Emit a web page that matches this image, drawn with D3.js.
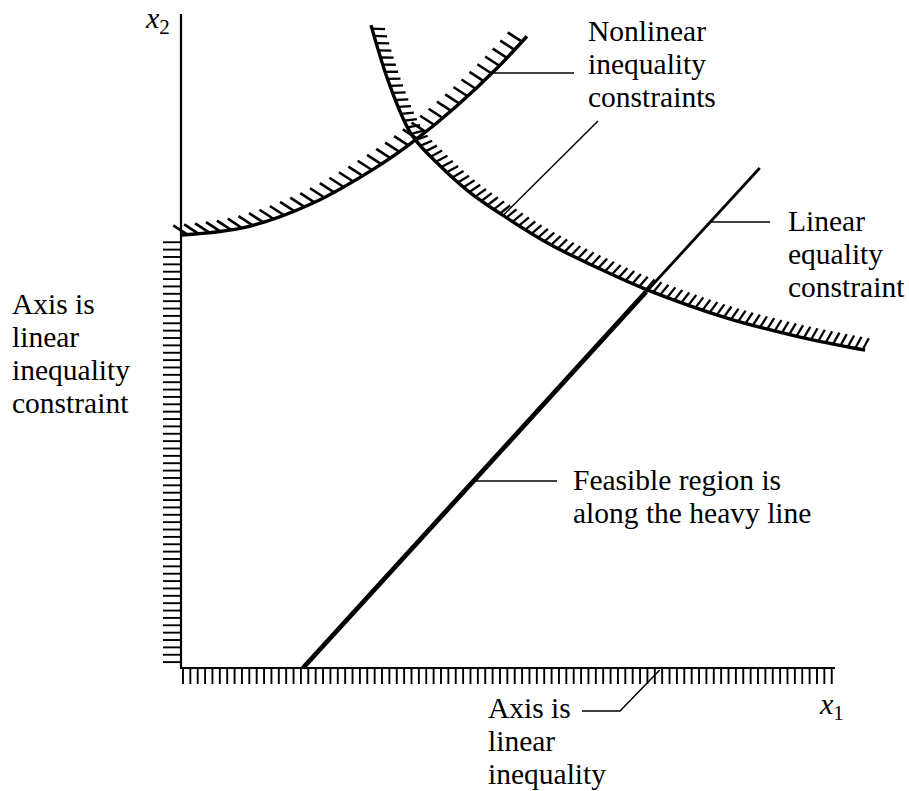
<!DOCTYPE html>
<html>
<head>
<meta charset="utf-8">
<script src="https://cdn.jsdelivr.net/npm/d3@7"></script>
<style>
  html, body { margin: 0; padding: 0; background: #fff; }
  svg { display: block; }
  text { font-family: "Liberation Serif", "Times New Roman", serif; fill: #000; }
</style>
</head>
<body>
<svg id="chart"></svg>
<script>
// Constraint sketch: x1/x2 axes as inequality constraints, two nonlinear
// inequality curves (hatched on the infeasible side) and a linear equality line.

// -------- data (chart units, 0..100 on both axes) --------
const nonlinearRising = [   // convex rising curve, hatched above
  [0.15, 66.2], [10.1, 67.45], [20.2, 71.1], [30.4, 76.9],
  [35.6, 80.55], [41.9, 85.7], [48.3, 91.7], [52.9, 96.6]
];
const nonlinearFalling = [  // hyperbola-like curve, hatched above/right
  [29.05, 98.3], [31.96, 89.0], [35.3, 81.5], [39.6, 76.8], [44.2, 72.7],
  [49.24, 69.2], [56.4, 64.8], [64.1, 61.0], [71.1, 57.9], [83.5, 53.5],
  [94.65, 50.6], [104.6, 48.6]
];
const equalityLine = [[18.65, 0], [71.1, 57.5], [88.5, 76.45]]; // start, hits curve, end
const xAxisExtent = [0, 100];
const yAxisExtent = [0, 100];
const xHatchExtent = [0.3, 99.5];
const yHatchExtent = [0.9, 65.1];

const labelNonlinear = ['Nonlinear', 'inequality', 'constraints'];
const labelEquality  = ['Linear', 'equality', 'constraint'];
const labelYAxis     = ['Axis is', 'linear', 'inequality', 'constraint'];
const labelFeasible  = ['Feasible region is', 'along the heavy line'];
const labelXAxis     = ['Axis is', 'linear', 'inequality'];

// -------- setup --------
const W = 909, H = 791;
const svg = d3.select('#chart').attr('width', W).attr('height', H);

const x = d3.scaleLinear().domain([0, 100]).range([181, 835]);
const y = d3.scaleLinear().domain([0, 100]).range([668, 14]);

const line = d3.line().x(d => x(d[0])).y(d => y(d[1]));
const smooth = d3.line().x(d => x(d[0])).y(d => y(d[1])).curve(d3.curveCatmullRom.alpha(0.5));

// hatch marks along a path; dirFn(tx, ty) -> unit direction for the mark
function hatch(pathSel, spacing, len, width, dirFn) {
  const node = pathSel.node();
  const L = node.getTotalLength();
  const segs = [];
  for (let s = spacing * 0.5; s <= L - 2; s += spacing) {
    const p  = node.getPointAtLength(s);
    const p0 = node.getPointAtLength(Math.max(0, s - 1.5));
    const p1 = node.getPointAtLength(Math.min(L, s + 1.5));
    let tx = p1.x - p0.x, ty = p1.y - p0.y;
    const n = Math.hypot(tx, ty) || 1;
    tx /= n; ty /= n;
    const [dx, dy] = dirFn(tx, ty);
    segs.push([p.x, p.y, p.x + dx * len, p.y + dy * len]);
  }
  svg.append('g').selectAll('line').data(segs).join('line')
    .attr('x1', d => d[0]).attr('y1', d => d[1])
    .attr('x2', d => d[2]).attr('y2', d => d[3])
    .attr('stroke', '#000').attr('stroke-width', width)
    .attr('stroke-linecap', 'butt');
}

// -------- nonlinear curves --------
const pathA = svg.append('path').attr('d', smooth(nonlinearRising))
  .attr('fill', 'none').attr('stroke', '#000').attr('stroke-width', 3.4);
const pathB = svg.append('path').attr('d', smooth(nonlinearFalling))
  .attr('fill', 'none').attr('stroke', '#000').attr('stroke-width', 3.4);

// rising curve: marks at a fixed slant, up-left
const aAng = 33 * Math.PI / 180;
hatch(pathA, 11, 17, 2.6, () => [-Math.cos(aAng), -Math.sin(aAng)]);

// falling curve: normal on the upper-right side, turned clockwise a bit
const bRot = 18 * Math.PI / 180;
hatch(pathB, 7.5, 13, 2.3, (tx, ty) => {
  const nx = ty, ny = -tx;
  return [nx * Math.cos(bRot) - ny * Math.sin(bRot), nx * Math.sin(bRot) + ny * Math.cos(bRot)];
});

// -------- linear equality line (heavy where feasible) --------
svg.append('path').attr('d', line(equalityLine.slice(1)))
  .attr('stroke', '#000').attr('stroke-width', 2.8).attr('fill', 'none');
svg.append('path').attr('d', line(equalityLine.slice(0, 2)))
  .attr('stroke', '#000').attr('stroke-width', 4.8).attr('fill', 'none');

// -------- axes with hatching --------
svg.append('line')
  .attr('x1', x(0)).attr('y1', y(yAxisExtent[1])).attr('x2', x(0)).attr('y2', y(0))
  .attr('stroke', '#000').attr('stroke-width', 2.2);
svg.append('line')
  .attr('x1', x(0) - 1).attr('y1', y(0)).attr('x2', x(xAxisExtent[1])).attr('y2', y(0))
  .attr('stroke', '#000').attr('stroke-width', 2.2);

const yTicks = d3.range(yHatchExtent[0], yHatchExtent[1] + 0.01, (yHatchExtent[1] - yHatchExtent[0]) / 57);
const xTicks = d3.range(xHatchExtent[0], xHatchExtent[1] + 0.01, (xHatchExtent[1] - xHatchExtent[0]) / 88);

svg.append('g').selectAll('line').data(yTicks).join('line')
  .attr('x1', x(0) - 18).attr('x2', x(0))
  .attr('y1', d => y(d)).attr('y2', d => y(d))
  .attr('stroke', '#000').attr('stroke-width', 1.9);
svg.append('g').selectAll('line').data(xTicks).join('line')
  .attr('x1', d => x(d)).attr('x2', d => x(d))
  .attr('y1', y(0)).attr('y2', y(0) + 16)
  .attr('stroke', '#000').attr('stroke-width', 1.9);

// -------- axis names --------
const xName = svg.append('text').attr('x', 820).attr('y', 714)
  .style('font-size', '30px').style('font-style', 'italic');
xName.append('tspan').text('x');
xName.append('tspan').attr('dy', 6).style('font-size', '21px').style('font-style', 'normal').text('1');

const yName = svg.append('text').attr('x', 146).attr('y', 28)
  .style('font-size', '30px').style('font-style', 'italic');
yName.append('tspan').text('x');
yName.append('tspan').attr('dy', 6).style('font-size', '21px').style('font-style', 'normal').text('2');

// -------- labels + leaders --------
function label(lines, lx, ly) {
  const t = svg.append('text').attr('x', lx).attr('y', ly).style('font-size', '29.5px');
  t.selectAll('tspan').data(lines).join('tspan')
    .attr('x', lx).attr('dy', (d, i) => i ? 33 : 0).text(d => d);
}
function leader(pts) {
  svg.append('polyline')
    .attr('points', pts.map(p => p.join(',')).join(' '))
    .attr('fill', 'none').attr('stroke', '#000').attr('stroke-width', 1.5);
}

label(labelNonlinear, 588, 41);
leader([[x(47.6), y(90.98)], [574, y(90.98)]]);
leader([[x(49.24), y(69.2)], [598, 121]]);

label(labelEquality, 788, 231);
leader([[x(81.04), y(68.2)], [770, y(68.2)]]);

label(labelYAxis, 12, 314);

label(labelFeasible, 573, 490);
leader([[x(44.8), y(28.6)], [557, y(28.6)]]);

label(labelXAxis, 488, 718);
leader([[x(73.2), y(0) + 2], [620, 711], [582, 711]]);
</script>
</body>
</html>
